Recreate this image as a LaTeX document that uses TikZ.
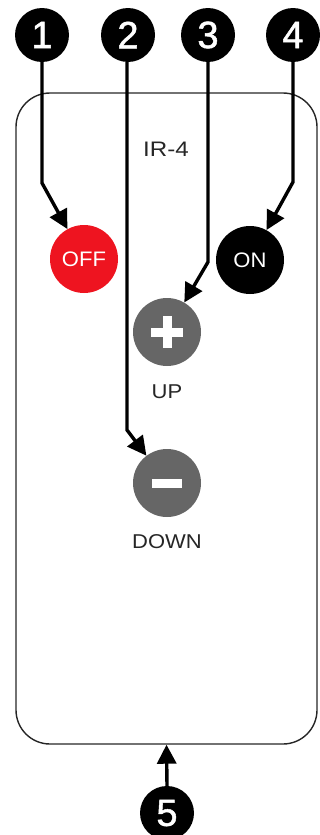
\documentclass[tikz,border=0pt]{standalone}
\usepackage{fontspec}
\setmainfont{Liberation Sans}
\newfontface\numfont{Liberation Sans}[FakeBold=1.3]
\usetikzlibrary{arrows.meta}
\definecolor{offred}{HTML}{EE1420}
\definecolor{btngray}{HTML}{666666}
\tikzset{
  numcirc/.style={circle, fill=black, minimum size=54pt, inner sep=0pt, text=white, font=\numfont\fontsize{38}{38}\selectfont},
  btn/.style={circle, minimum size=68pt, inner sep=0pt, text=white, font=\fontsize{21}{21}\selectfont},
  lbl/.style={anchor=base, inner sep=0pt, text=black!85, font=\fontsize{20}{20}\selectfont},
  arr/.style={line width=3.4pt, -{Triangle[length=19pt,width=19pt]}},
}
\begin{document}
\begin{tikzpicture}[x=1pt,y=-1pt]
\useasboundingbox (0,0) rectangle (320,835);
% remote body
\node[draw=black!85, line width=1.4pt, rounded corners=34pt, minimum width=301pt, minimum height=651pt, inner sep=0pt] (remote) at (166.5,418.5) {};
% label texts
\node[lbl, font=\fontsize{21}{21}\selectfont] (ir) at (166,156) {\scalebox{1.15}[1]{IR-4}};
% buttons
\node[btn, fill=offred] (off) at (84,259) {\scalebox{1.05}[1]{OFF}};
\node[btn, fill=black] (on) at (250,260) {\scalebox{1.05}[1]{ON}};
\node[btn, fill=btngray] (up) at (167,332) {};
\node[btn, fill=btngray] (down) at (167,483) {};
\begin{scope}[shift={(up.center)}]
  \fill[white] (-16,-4.5) rectangle (16,4.5);
  \fill[white] (-4.5,-16) rectangle (4.5,16);
\end{scope}
\begin{scope}[shift={(down.center)}]
  \fill[white] (-15,-4.5) rectangle (15,4.5);
\end{scope}
\node[lbl] (uplbl) at (167,398) {\scalebox{1.1}[1]{UP}};
\node[lbl] (downlbl) at (167,548) {\scalebox{1.1}[1]{DOWN}};
% number callouts
\node[numcirc] (n1) at (42,35) {1};
\node[numcirc] (n2) at (128,35) {2};
\node[numcirc] (n3) at (208,35) {3};
\node[numcirc] (n4) at (293,35) {4};
\node[numcirc] (n5) at (167,813) {5};
% bend points
\coordinate (b1) at (42,183);
\coordinate (b2) at (127,430);
\coordinate (b3) at (208,262);
\coordinate (b4) at (293,182);
% connectors
\draw[arr] (n1.south) -- (b1) -- (off);
\draw[arr] (n2.south -| b2) -- (b2) -- (down);
\draw[arr] (n3.south) -- (b3) -- (up);
\draw[arr] (n4.south) -- (b4) -- (on);
\draw[arr] (n5.north) -- (remote.south);
\end{tikzpicture}
\end{document}
